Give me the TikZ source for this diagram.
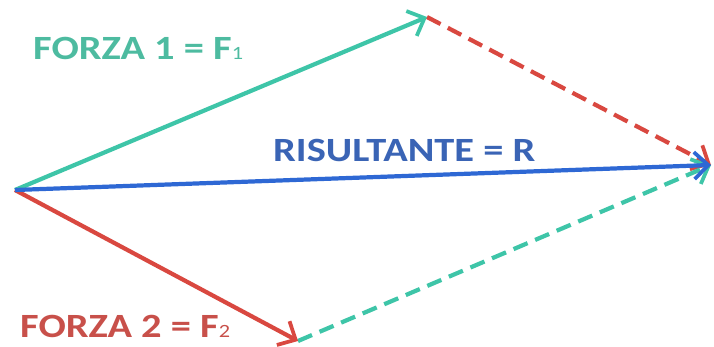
\documentclass[tikz,border=0pt]{standalone}
\usepackage{fontspec}
\setmainfont{Carlito}
\newfontfamily\lblfont[FakeStretch=1.19]{Carlito}
\usepackage{xcolor}
\usetikzlibrary{arrows.meta, positioning}

\definecolor{tealF}{RGB}{62,197,168}
\definecolor{tealT}{RGB}{77,187,160}
\definecolor{redF}{RGB}{217,72,64}
\definecolor{redT}{RGB}{200,80,74}
\definecolor{blueR}{RGB}{46,104,212}
\definecolor{blueT}{RGB}{58,100,181}

\newcommand{\smallidx}[1]{{\fontsize{16}{16}\selectfont\mdseries #1}}

\begin{document}
\begin{tikzpicture}[
    x=0.03cm, y=-0.03cm,
    vec/.style={-{Straight Barb[length=12pt, width=23pt, line width=3.2pt]}, line width=3.6pt},
    comp/.style={vec, dashed, dash pattern=on 13pt off 7pt},
    lbl/.style={anchor=base west, inner sep=0pt, font=\lblfont\fontsize{29}{30}\selectfont\bfseries}
]
\useasboundingbox (0,0) rectangle (714,347);

% Points
\coordinate (origin) at (15,190);
\coordinate (tipone) at (427,17);
\coordinate (tiptwo) at (298,341);
\coordinate (tipres) at (711,165);

% Labels
\node (lblone) [lbl, text=tealT] at (33,60) {FORZA 1 = F\smallidx{1}};
\node (lblres) [lbl, text=blueT] at (273,162) {RISULTANTE = R};
\node (lbltwo) [lbl, text=redT] at (20,338) {FORZA 2 = F\smallidx{2}};

% Paths
\draw [comp, draw=redF] (tipone) -- (tipres);
\draw [comp, draw=tealF] (tiptwo) -- (tipres);
\draw [vec, draw=tealF] (origin) -- (tipone);
\draw [vec, draw=redF] (origin) -- (tiptwo);
\draw [vec, draw=blueR] (origin) -- (tipres);

\end{tikzpicture}
\end{document}
